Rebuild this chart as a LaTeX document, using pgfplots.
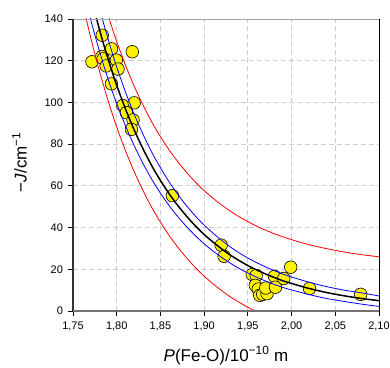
\documentclass[border=0pt]{standalone}
\usepackage{fontspec}
\setmainfont{Liberation Sans}
\usepackage{pgfplots}
\pgfplotsset{compat=1.18}
\begin{document}
\begin{tikzpicture}[x=1pt,y=1pt]
\path[use as bounding box] (-73,-56) rectangle (317,311);
\begin{axis}[
  at={(0,0)}, anchor=south west,
  width=306pt, height=292pt, scale only axis,
  xmin=1.75, xmax=2.10, ymin=0, ymax=140,
  xtick={1.75,1.80,1.85,1.90,1.95,2.00,2.05,2.10},
  ytick={0,20,40,60,80,100,120,140},
  tick align=outside, xtick pos=left, ytick pos=left,
  major tick length=4.5pt,
  tick style={black, line width=0.8pt},
  grid=major,
  major grid style={dash pattern=on 5pt off 3pt, gray!40, line width=0.8pt},
  axis line style={draw=none},
  clip mode=individual,
  /pgf/number format/assume math mode=true,
  ticklabel style={font=\fontsize{11}{13}\selectfont},
  xticklabel style={yshift=-3pt, /pgf/number format/.cd, use comma, fixed, fixed zerofill, precision=2},
  yticklabel style={xshift=-2pt, /pgf/number format/.cd, fixed, precision=0},
  xlabel={\textit{P}(Fe-O)/10\textsuperscript{\char"2212 10} m},
  xlabel style={font=\fontsize{17}{20}\selectfont, at={(axis description cs:0.5,-0.172)}, anchor=base, inner sep=0pt},
  ylabel={\char"2212\textit{J}/cm\textsuperscript{\char"2212 1}},
  ylabel style={font=\fontsize{17}{20}\selectfont, at={(axis description cs:-0.15,0.51)}, anchor=south, inner sep=0pt},
]
% data points
\addplot[only marks, mark=*, mark size=6.3pt, mark options={fill=yellow, draw=black, line width=0.6pt}] coordinates {
(1.7717,119.5) (1.7835,132.2) (1.7940,125.7) (1.7830,122.0) (1.7845,120.9)
(1.7880,117.5) (1.7996,120.3) (1.8015,116.0) (1.7939,108.9) (1.8070,98.5)
(1.8200,99.8) (1.8110,95.1) (1.8187,91.6) (1.8168,87.1) (1.8178,124.3)
(1.8637,55.3) (1.9195,31.6) (1.9228,26.2) (1.9550,17.5) (1.9595,17.0)
(1.9585,12.3) (1.9620,10.5) (1.9636,7.5) (1.9670,8.0) (1.9720,8.3) (1.9705,11.0)
(1.9805,16.6) (1.9816,11.4) (1.9910,15.6) (1.9990,21.0) (2.0205,10.8)
(2.0790,8.0)
};
% upper prediction band
\addplot[red, line width=0.8pt, smooth] coordinates {
(1.785,147.9) (1.790,142.0) (1.795,135.4) (1.800,129.2) (1.810,117.9) (1.820,107.8)
(1.830,98.8) (1.840,90.7) (1.850,83.6) (1.860,77.2) (1.870,71.5) (1.880,66.4)
(1.890,61.8) (1.900,57.7) (1.920,50.8) (1.940,45.2) (1.960,40.7) (1.980,37.1)
(2.000,34.2) (2.020,31.8) (2.040,29.9) (2.060,28.3) (2.080,27.0) (2.100,26.0)
};
% lower prediction band
\addplot[red, line width=0.8pt, smooth] coordinates {
(1.760,149.7) (1.765,140.3) (1.770,131.5) (1.775,123.2) (1.780,115.4) (1.790,101.0)
(1.800,88.2) (1.810,76.9) (1.820,66.8) (1.830,57.8) (1.840,49.7) (1.850,42.6)
(1.860,36.2) (1.870,30.5) (1.880,25.4) (1.890,20.8) (1.900,16.7) (1.910,13.1)
(1.920,9.8) (1.930,6.8) (1.940,4.2) (1.950,1.8) (1.960,-0.3) (1.965,-1.3)
};
% upper confidence band
\addplot[blue, line width=0.8pt, smooth] coordinates {
(1.775,154.1) (1.780,145.8) (1.785,137.9) (1.790,130.6) (1.795,123.6) (1.800,117.0)
(1.810,105.0) (1.820,94.3) (1.830,84.8) (1.840,76.2) (1.850,68.7) (1.860,61.9)
(1.870,55.8) (1.880,50.4) (1.890,45.5) (1.900,41.2) (1.910,37.4) (1.920,33.9)
(1.930,30.7) (1.940,27.9) (1.950,25.4) (1.960,23.2) (1.970,21.2) (1.980,19.4)
(1.990,17.7) (2.000,16.3) (2.020,13.8) (2.040,11.7) (2.060,10.0) (2.080,8.7) (2.100,7.2)
};
% lower confidence band
\addplot[blue, line width=0.8pt, smooth] coordinates {
(1.765,148.4) (1.770,140.1) (1.775,132.3) (1.780,125.0) (1.785,117.9) (1.790,111.4)
(1.795,105.2) (1.800,99.4) (1.810,88.8) (1.820,79.3) (1.830,70.8) (1.840,63.2)
(1.850,56.5) (1.860,50.5) (1.870,45.2) (1.880,40.4) (1.890,36.1) (1.900,32.2)
(1.910,28.8) (1.920,25.7) (1.930,22.9) (1.940,20.4) (1.950,18.2) (1.960,16.2)
(1.970,14.4) (1.980,12.8) (1.990,11.3) (2.000,10.1) (2.020,7.9) (2.040,6.0)
(2.060,4.6) (2.080,3.3) (2.100,2.2)
};
% regression
\addplot[black, line width=1.5pt, smooth] coordinates {
(1.770,151.5) (1.775,143.2) (1.780,135.4) (1.785,127.9) (1.790,121.0) (1.795,114.4)
(1.800,108.2) (1.810,96.9) (1.820,86.8) (1.830,77.8) (1.840,69.7) (1.850,62.6)
(1.860,56.2) (1.870,50.5) (1.880,45.4) (1.890,40.8) (1.900,36.7) (1.910,33.1)
(1.920,29.8) (1.930,26.8) (1.940,24.2) (1.950,21.8) (1.960,19.7) (1.970,17.8)
(1.980,16.1) (1.990,14.5) (2.000,13.2) (2.020,10.8) (2.040,8.86) (2.060,7.29)
(2.080,6.00) (2.100,4.96)
};
\draw[black!35, line width=0.8pt] (rel axis cs:0,1) -- (rel axis cs:1,1);
\draw[black, line width=0.8pt] (rel axis cs:1,0) -- (rel axis cs:1,1);
\draw[black!80, line width=1.5pt] (rel axis cs:0,0) -- (rel axis cs:0,1);
\draw[black!55, line width=2pt] (rel axis cs:0,0) -- (rel axis cs:1,0);
\end{axis}
\end{tikzpicture}
\end{document}
